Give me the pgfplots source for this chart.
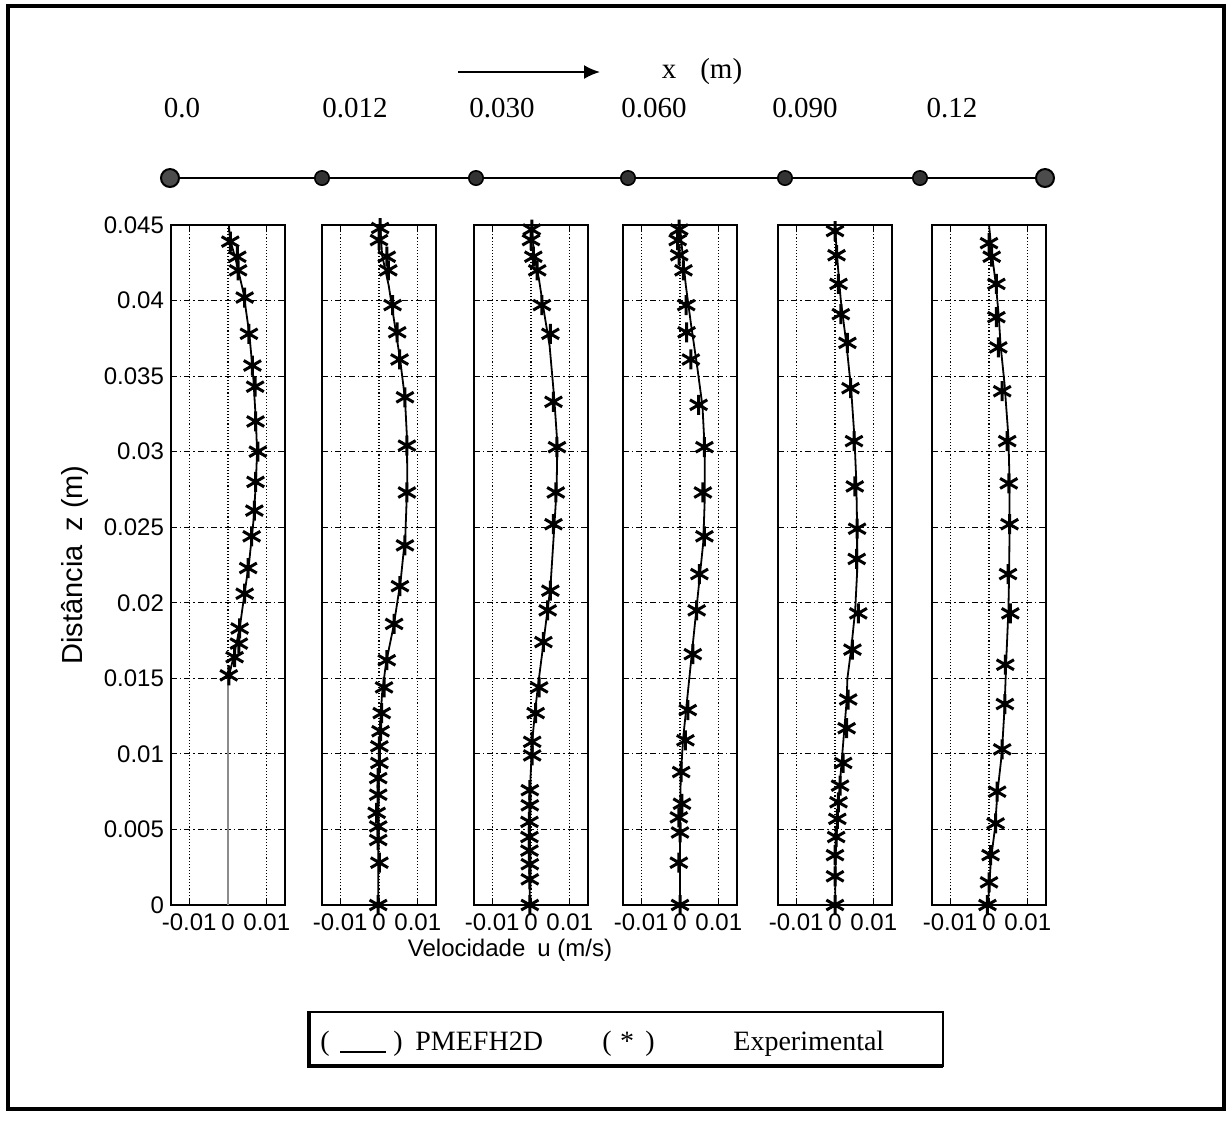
\documentclass[border=0pt]{standalone}
\usepackage{pgfplots}
\pgfplotsset{compat=1.18}
\usepackage{fontspec}
\setmainfont{Liberation Serif}
\setsansfont{Liberation Sans}
\usetikzlibrary{arrows.meta}

\pgfplotsset{
  panel/.style={
    anchor=north west, scale only axis, width=57pt, height=340pt,
    xmin=-0.0147, xmax=0.0147, ymin=0, ymax=0.045,
    xtick={-0.01,0,0.01}, xticklabels={-0.01,0,0.01},
    ytick={0,0.005,0.01,0.015,0.02,0.025,0.03,0.035,0.04,0.045},
    yticklabels={},
    scaled x ticks=false, scaled y ticks=false,
    xmajorgrids, ymajorgrids,
    x grid style={black, line width=0.55pt, densely dotted},
    y grid style={black, line width=0.55pt, dash pattern=on 3pt off 1.5pt on 0.7pt off 1.5pt},
    axis line style={line width=1.1pt},
    tick align=inside, major tick length=3pt, tick style={black, line width=0.5pt},
    tick label style={font=\sffamily\fontsize{12}{14}\selectfont},
    xticklabel style={yshift=-1pt},
  },
  model/.style={black, line width=0.9pt, no marks},
  expt/.style={black, only marks, mark=asterisk, mark size=5pt, line width=1.5pt},
}

\begin{document}
\begin{tikzpicture}
\useasboundingbox (0,0) rectangle (616pt,-560pt);

% overlay axis in pixel units
\begin{axis}[at={(0pt,0pt)}, anchor=north west, scale only axis,
  width=616pt, height=560pt, xmin=0, xmax=1232, ymin=0, ymax=1120,
  y dir=reverse, hide axis, clip=false]
  \draw[line width=2pt] (axis cs:8,6) rectangle (axis cs:1224,1109);
  % arrow and labels
  \addplot[black, line width=1pt, -{Latex[length=8pt,width=7pt]}] coordinates {(458,72) (600,72)};
  \node[font=\fontsize{14.5}{16}\selectfont] at (axis cs:702,72) {x\hspace{12pt}(m)};
  \node[font=\fontsize{14.5}{16}\selectfont] at (axis cs:182,108) {0.0};
  \node[font=\fontsize{14.5}{16}\selectfont] at (axis cs:355,108) {0.012};
  \node[font=\fontsize{14.5}{16}\selectfont] at (axis cs:502,108) {0.030};
  \node[font=\fontsize{14.5}{16}\selectfont] at (axis cs:654,108) {0.060};
  \node[font=\fontsize{14.5}{16}\selectfont] at (axis cs:805,108) {0.090};
  \node[font=\fontsize{14.5}{16}\selectfont] at (axis cs:952,108) {0.12};
  % schematic row
  \addplot[black, line width=1pt, mark=*, mark size=3.6pt, mark options={fill=black!80, line width=0.8pt}]
    coordinates {(170,178) (322,178) (476,178) (628,178) (785,178) (920,178) (1045,178)};
  \addplot[only marks, mark=*, mark size=4.5pt, mark options={fill=black!70, draw=black, line width=1pt}]
    coordinates {(170,178) (1045,178)};
  % axis labels
  \node[rotate=90, font=\sffamily\fontsize{14.5}{16}\selectfont] at (axis cs:75,565) {Distância\hspace{7pt}z (m)};
  \node[font=\sffamily\fontsize{12}{14}\selectfont] at (axis cs:510,950) {Velocidade\hspace{6pt}u (m/s)};
  % legend box
  \draw[line width=1.3pt] (axis cs:308,1012) rectangle (axis cs:943,1066);
  \draw[line width=2.2pt] (axis cs:309,1012) -- (axis cs:309,1066) -- (axis cs:943,1066);
  \node[anchor=base west, font=\fontsize{14}{16}\selectfont, inner sep=0pt] at (axis cs:320,1050) {(};
  \draw[line width=0.8pt] (axis cs:340,1052) -- (axis cs:386,1052);
  \node[anchor=base west, font=\fontsize{14}{16}\selectfont, inner sep=0pt] at (axis cs:393,1050) {)};
  \node[anchor=base west, font=\fontsize{14}{16}\selectfont, inner sep=0pt] at (axis cs:415,1050) {PMEFH2D};
  \node[anchor=base west, font=\fontsize{14}{16}\selectfont, inner sep=0pt] at (axis cs:602,1050) {(};
  \node[anchor=base, font=\fontsize{14}{16}\selectfont, inner sep=0pt] at (axis cs:627,1050) {*};
  \node[anchor=base west, font=\fontsize{14}{16}\selectfont, inner sep=0pt] at (axis cs:645,1050) {)};
  \node[anchor=base west, font=\fontsize{14}{16}\selectfont, inner sep=0pt] at (axis cs:733,1050) {Experimental};
\end{axis}

% Panel 1: x = 0.0
\begin{axis}[panel, at={(85.5pt,-112.5pt)},
  yticklabels={0,0.005,0.01,0.015,0.02,0.025,0.03,0.035,0.04,0.045}]
  \addplot[black!45, line width=0.9pt] coordinates {(0.0,0.0152) (0.0,0.0)};
  \addplot[model] coordinates {(0.0002,0.045) (0.0006,0.0440) (0.0022,0.0425) (0.0040,0.0405) (0.0055,0.0378) (0.0065,0.0350) (0.0072,0.0320) (0.0075,0.0300) (0.0072,0.0280) (0.0066,0.0255) (0.0055,0.0228) (0.0042,0.0205) (0.0030,0.0183) (0.0015,0.0165) (0.0003,0.0152)};
  \addplot[expt] coordinates {(0.0006,0.0439) (0.0024,0.0429) (0.0026,0.0420) (0.0043,0.0402) (0.0054,0.0378) (0.0063,0.0357) (0.0070,0.0343) (0.0071,0.0320) (0.0077,0.0300) (0.0071,0.0280) (0.0068,0.0261) (0.0061,0.0244) (0.0052,0.0223) (0.0043,0.0206) (0.0030,0.0183) (0.0028,0.0173) (0.0017,0.0164) (0.0002,0.0152)};
\end{axis}

% Panel 2: x = 0.012
\begin{axis}[panel, at={(161pt,-112.5pt)}]
  \addplot[model] coordinates {(0.0003,0.045) (0.0008,0.0430) (0.0025,0.0410) (0.0040,0.0385) (0.0055,0.0360) (0.0067,0.0335) (0.0072,0.0310) (0.0073,0.0280) (0.0068,0.0245) (0.0056,0.0215) (0.0038,0.0185) (0.0018,0.0160) (0.0008,0.0140) (0.0003,0.0120) (0.0,0.0090) (-0.0002,0.0060) (-0.0002,0.0)};
  \addplot[expt] coordinates {(0.0003,0.0448) (0.0,0.0440) (0.0020,0.0429) (0.0024,0.0420) (0.0035,0.0397) (0.0047,0.0379) (0.0053,0.0361) (0.0067,0.0336) (0.0072,0.0304) (0.0072,0.0273) (0.0067,0.0238) (0.0054,0.0211) (0.0039,0.0186) (0.0020,0.0162) (0.0013,0.0144) (0.0007,0.0127) (0.0004,0.0115) (0.0001,0.0105) (0.0001,0.0094) (-0.0002,0.0084) (-0.0002,0.0073) (-0.0006,0.0061) (-0.0002,0.0052) (-0.0002,0.0043) (0.0001,0.0028) (-0.0002,0.0)};
\end{axis}

% Panel 3: x = 0.030
\begin{axis}[panel, at={(237pt,-112.5pt)}]
  \addplot[model] coordinates {(0.0002,0.045) (0.0008,0.0430) (0.0020,0.0415) (0.0032,0.0395) (0.0048,0.0370) (0.0060,0.0335) (0.0068,0.0305) (0.0066,0.0275) (0.0060,0.0250) (0.0050,0.0210) (0.0040,0.0190) (0.0028,0.0165) (0.0018,0.0145) (0.0010,0.0127) (0.0003,0.0108) (-0.0002,0.0080) (-0.0003,0.0040) (-0.0003,0.0)};
  \addplot[expt] coordinates {(0.0002,0.0447) (0.0,0.0440) (0.0006,0.0429) (0.0016,0.0420) (0.0028,0.0397) (0.0050,0.0378) (0.0058,0.0333) (0.0067,0.0303) (0.0064,0.0273) (0.0058,0.0252) (0.0050,0.0208) (0.0043,0.0195) (0.0032,0.0174) (0.0021,0.0144) (0.0012,0.0127) (0.0003,0.0108) (0.0003,0.0099) (-0.0003,0.0076) (-0.0003,0.0066) (-0.0004,0.0055) (-0.0004,0.0045) (-0.0004,0.0036) (-0.0003,0.0027) (-0.0003,0.0017) (-0.0003,0.0)};
\end{axis}

% Panel 4: x = 0.060
\begin{axis}[panel, at={(311.5pt,-112.5pt)}]
  \addplot[model] coordinates {(0.0,0.045) (0.0005,0.0435) (0.0015,0.0410) (0.0028,0.0385) (0.0045,0.0355) (0.0058,0.0330) (0.0064,0.0300) (0.0064,0.0270) (0.0060,0.0240) (0.0050,0.0215) (0.0040,0.0190) (0.0030,0.0165) (0.0018,0.0135) (0.0008,0.0110) (0.0002,0.0085) (0.0,0.0060) (0.0,0.0)};
  \addplot[expt] coordinates {(-0.0002,0.0447) (-0.0006,0.0440) (-0.0002,0.0430) (0.0009,0.0420) (0.0016,0.0397) (0.0017,0.0379) (0.0028,0.0361) (0.0048,0.0331) (0.0063,0.0303) (0.0059,0.0273) (0.0063,0.0244) (0.0050,0.0219) (0.0043,0.0195) (0.0033,0.0166) (0.0020,0.0129) (0.0014,0.0109) (0.0003,0.0088) (0.0005,0.0067) (-0.0003,0.0058) (0.0,0.0048) (-0.0003,0.0028) (0.0,0.0)};
\end{axis}

% Panel 5: x = 0.090
\begin{axis}[panel, at={(389pt,-112.5pt)}]
  \addplot[model] coordinates {(0.0,0.045) (0.0005,0.0430) (0.0015,0.0400) (0.0030,0.0370) (0.0042,0.0340) (0.0050,0.0310) (0.0055,0.0280) (0.0057,0.0250) (0.0057,0.0220) (0.0052,0.0195) (0.0042,0.0170) (0.0032,0.0150) (0.0030,0.0135) (0.0022,0.0110) (0.0014,0.0085) (0.0007,0.0060) (0.0002,0.0035) (0.0,0.0)};
  \addplot[expt] coordinates {(0.0,0.0446) (0.0004,0.0430) (0.0009,0.0411) (0.0015,0.0391) (0.0032,0.0372) (0.0040,0.0342) (0.0049,0.0307) (0.0051,0.0277) (0.0057,0.0249) (0.0056,0.0229) (0.0060,0.0193) (0.0045,0.0169) (0.0034,0.0136) (0.0030,0.0117) (0.0021,0.0094) (0.0013,0.0079) (0.0009,0.0068) (0.0006,0.0057) (0.0003,0.0045) (0.0,0.0033) (0.0,0.0019) (0.0,0.0)};
\end{axis}

% Panel 6: x = 0.12
\begin{axis}[panel, at={(466pt,-112.5pt)}]
  \addplot[model] coordinates {(0.0,0.045) (0.0008,0.0430) (0.0018,0.0410) (0.0025,0.0390) (0.0030,0.0370) (0.0040,0.0345) (0.0050,0.0310) (0.0053,0.0280) (0.0053,0.0250) (0.0052,0.0220) (0.0050,0.0195) (0.0045,0.0165) (0.0040,0.0130) (0.0033,0.0100) (0.0022,0.0075) (0.0015,0.0050) (0.0005,0.0030) (0.0,0.0010) (-0.0003,0.0)};
  \addplot[expt] coordinates {(0.0,0.0438) (0.0007,0.0429) (0.0019,0.0411) (0.0019,0.0389) (0.0024,0.0369) (0.0034,0.0340) (0.0047,0.0307) (0.0051,0.0279) (0.0053,0.0252) (0.0049,0.0219) (0.0055,0.0193) (0.0042,0.0159) (0.0041,0.0133) (0.0034,0.0103) (0.0021,0.0075) (0.0017,0.0054) (0.0004,0.0033) (0.0,0.0015) (-0.0004,0.0)};
\end{axis}
\end{tikzpicture}
\end{document}
